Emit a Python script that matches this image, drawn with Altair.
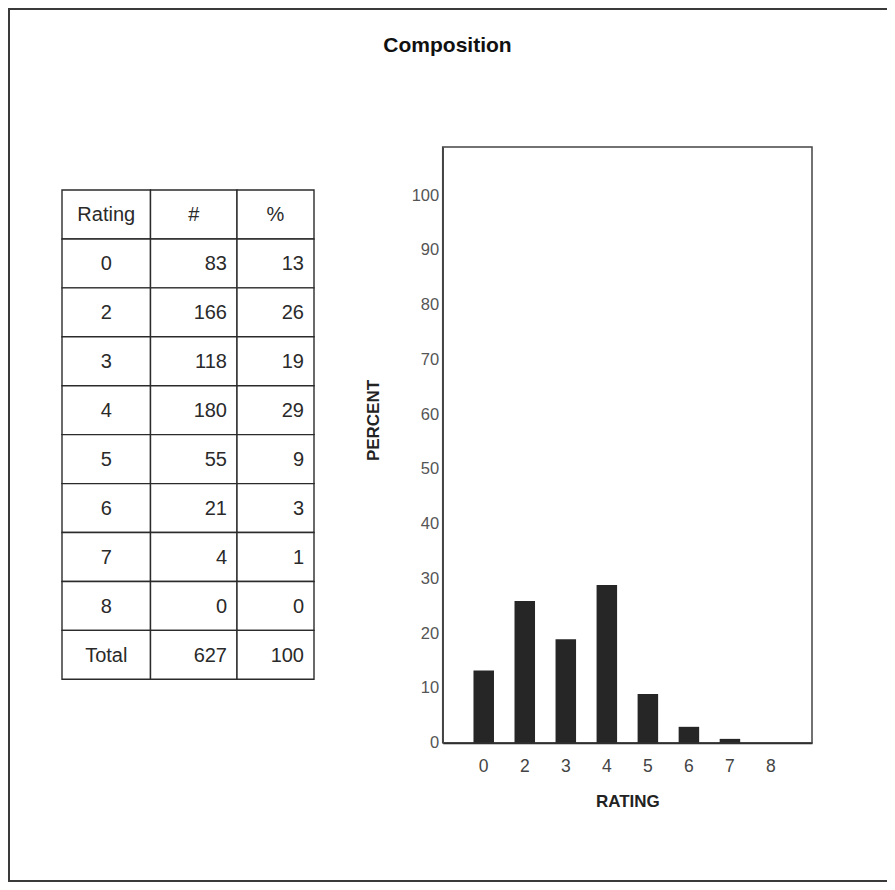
import altair as alt
import pandas as pd

# ---------------- data ----------------
title_text = "Composition"
header = ["Rating", "#", "%"]
ratings = ["0", "2", "3", "4", "5", "6", "7", "8"]
counts = [83, 166, 118, 180, 55, 21, 4, 0]
percents = [13, 26, 19, 29, 9, 3, 1, 0]
total_label = "Total"
total_count = 627
total_percent = 100
bar_percent = [13.2, 25.9, 18.9, 28.8, 8.9, 2.9, 0.7, 0.0]
y_ticks = [0, 10, 20, 30, 40, 50, 60, 70, 80, 90, 100]

# ---------------- table ----------------
rows = [header] + [[r, str(c), str(p)] for r, c, p in zip(ratings, counts, percents)] \
    + [[total_label, str(total_count), str(total_percent)]]
cells = []
for ri, row in enumerate(rows):
    for ci, txt in enumerate(row):
        cells.append({
            "row": ri, "row_end": ri + 1, "row_mid": ri + 0.5,
            "col": ci, "col_end": ci + 1, "col_mid": ci + 0.5,
            "label": txt,
            "kind": "center" if (ri == 0 or ci == 0) else "right",
        })
table_df = pd.DataFrame(cells)

W, H = 879, 874
FONT = "Liberation Sans"

tx = alt.Scale(domain=[0, 1, 2, 3], range=[54, 142.5, 229, 306])
ty = alt.Scale(domain=[0, 10], range=[182, 671.3])

table_base = alt.Chart(table_df)
table_cells = table_base.mark_rect(fill="white", stroke="#2b2b2b", strokeWidth=1.4).encode(
    x=alt.X("col:Q", scale=tx, axis=None),
    x2="col_end:Q",
    y=alt.Y("row:Q", scale=ty, axis=None),
    y2="row_end:Q",
)
table_text_c = table_base.transform_filter(alt.datum.kind == "center").mark_text(
    font=FONT, fontSize=20, color="#2a2a2a", align="center", baseline="middle", dy=1
).encode(
    x=alt.X("col_mid:Q", scale=tx, axis=None),
    y=alt.Y("row_mid:Q", scale=ty, axis=None),
    text="label:N",
)
table_text_r = table_base.transform_filter(alt.datum.kind == "right").mark_text(
    font=FONT, fontSize=20, color="#2a2a2a", align="right", baseline="middle", dx=-10, dy=1
).encode(
    x=alt.X("col_end:Q", scale=tx, axis=None),
    y=alt.Y("row_mid:Q", scale=ty, axis=None),
    text="label:N",
)
table_layer = alt.layer(table_cells, table_text_c, table_text_r)

# ---------------- bar chart ----------------
PX0, PX1 = 434.7, 804.0
PY0, PY1 = 734.7, 139.0
bar_df = pd.DataFrame({"rating": ratings, "percent": bar_percent})

bars = alt.Chart(bar_df).mark_bar(color="#262626").encode(
    x=alt.X(
        "rating:N", sort=ratings,
        scale=alt.Scale(range=[PX0, PX1], paddingInner=0.5, paddingOuter=0.75),
        axis=alt.Axis(
            orient="bottom", offset=-(H - PY0), title="RATING", labelAngle=0,
            labelFont=FONT, labelFontSize=17.5, labelColor="#444", labelPadding=15,
            ticks=False, domain=True, domainColor="#1a1a1a", domainWidth=2.2,
            titleFont=FONT, titleFontSize=17, titleFontWeight="bold", titleColor="#222",
            titleY=51, grid=False,
        ),
    ),
    y=alt.Y(
        "percent:Q",
        scale=alt.Scale(domain=[0, 108.8], range=[PY0, PY1], nice=False, zero=True),
        axis=alt.Axis(
            orient="left", offset=-PX0, values=y_ticks, title="PERCENT",
            labelFont=FONT, labelFontSize=16.5, labelColor="#555", labelPadding=4,
            ticks=False, domain=True, domainColor="#444", domainWidth=1.5,
            titleFont=FONT, titleFontSize=17, titleFontWeight="bold", titleColor="#222",
            titleY=412, titleX=-60, grid=False,
        ),
    ),
)

box = alt.Chart(alt.Data(values=[{}])).mark_rect(
    fill=None, stroke="#444", strokeWidth=1.5
).encode(
    x=alt.X(datum=0, scale=alt.Scale(domain=[0, 1], range=[PX0, PX1]), axis=None),
    x2=alt.datum(1),
    y=alt.Y(datum=0, scale=alt.Scale(domain=[0, 1], range=[PY0, PY1]), axis=None),
    y2=alt.datum(1),
)

# outer frame: right edge runs past the page, as in the scan
frame = alt.Chart(alt.Data(values=[{}])).mark_rect(
    fill=None, stroke="#3a3a3a", strokeWidth=2
).encode(
    x=alt.X(datum=0, scale=alt.Scale(domain=[0, 1], range=[1, W + 30]), axis=None),
    x2=alt.datum(1),
    y=alt.Y(datum=0, scale=alt.Scale(domain=[0, 1], range=[H - 1, 1]), axis=None),
    y2=alt.datum(1),
)

chart = alt.layer(frame, table_layer, box, bars).resolve_scale(
    x="independent", y="independent"
).properties(
    width=W, height=H,
    autosize=alt.AutoSizeParams(type="none"),
    padding=0,
    title=alt.TitleParams(
        title_text, font=FONT, fontSize=21, fontWeight="bold", color="#111",
        anchor="middle", frame="group", offset=-48, dx=0,
    ),
).configure_view(stroke=None)

chart.save("out.html", embed_options={"renderer": "svg", "actions": False})
